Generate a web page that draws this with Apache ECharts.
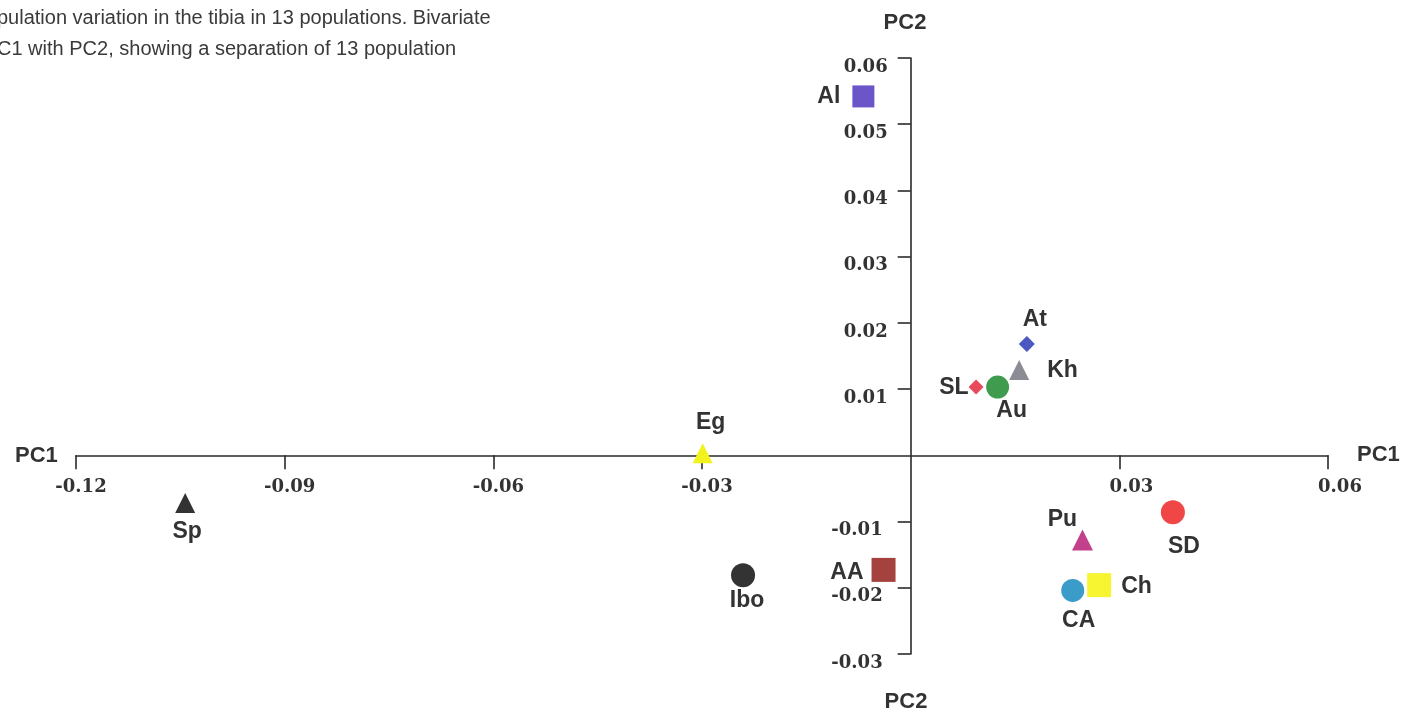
<!DOCTYPE html>
<html>
<head>
<meta charset="utf-8">
<script src="https://cdn.jsdelivr.net/npm/echarts@6/dist/echarts.min.js"></script>
<style>
html,body{margin:0;padding:0;background:#fff;}
#main{width:1408px;height:715px;}
</style>
</head>
<body>
<div id="main"></div>
<script>
// ---- data ----
const populations = ['Al','At','Kh','SL','Au','Eg','Sp','Ibo','AA','Pu','SD','CA','Ch'];
const pc1 = [-0.0068, 0.0167, 0.0156, 0.0094, 0.0125, -0.0299, -0.1043, -0.0241, -0.0039, 0.0247, 0.0377, 0.0233, 0.0271];
const pc2 = [0.0542, 0.0168, 0.0129, 0.0103, 0.0103, 0.0003, -0.0072, -0.0181, -0.0173, -0.0128, -0.0086, -0.0204, -0.0196];
const xTicks = [-0.12, -0.09, -0.06, -0.03, 0.03, 0.06];
const yTicks = [-0.03, -0.02, -0.01, 0.01, 0.02, 0.03, 0.04, 0.05, 0.06];
const captionLines = [
  'pulation variation in the tibia in 13 populations. Bivariate',
  'C1 with PC2, showing a separation of 13 population'
];

// ---- styles (per population) ----
const styleMap = {
  Al:  {symbol:'rect',     size:22, color:'#6b55c9', pos:'left',   dist:12, offset:[0,0]},
  At:  {symbol:'diamond',  size:16, color:'#4b58c2', pos:'top',    dist:5,  offset:[8,0]},
  Kh:  {symbol:'triangle', size:20, color:'#8c8c94', pos:'right',  dist:18, offset:[0,1]},
  SL:  {symbol:'diamond',  size:15, color:'#e84a5c', pos:'left',   dist:0,  offset:[0,1]},
  Au:  {symbol:'circle',   size:23, color:'#3f9b4d', pos:'bottom', dist:1,  offset:[14,0]},
  Eg:  {symbol:'triangle', size:20, color:'#f2f21e', pos:'top',    dist:9,  offset:[8,0]},
  Sp:  {symbol:'triangle', size:20, color:'#333333', pos:'bottom', dist:7,  offset:[2,0]},
  Ibo: {symbol:'circle',   size:24, color:'#333333', pos:'bottom', dist:2,  offset:[4,0]},
  AA:  {symbol:'rect',     size:24, color:'#a3423f', pos:'left',   dist:8,  offset:[0,3]},
  Pu:  {symbol:'triangle', size:21, color:'#c2418a', pos:'top',    dist:0,  offset:[-20,2]},
  SD:  {symbol:'circle',   size:24, color:'#f04646', pos:'bottom', dist:11, offset:[11,0]},
  CA:  {symbol:'circle',   size:23, color:'#3b9bc9', pos:'bottom', dist:7,  offset:[6,0]},
  Ch:  {symbol:'rect',     size:24, color:'#f7f531', pos:'right',  dist:10, offset:[0,2]}
};

const num = v => {
  const r = Math.round(v*100)/100;
  if (Math.abs(r) < 1e-9) return null;
  return r;
};
const fmtX = v => {
  const r = num(v);
  if (r === null) return '';
  return r < 0 ? '{n|-' + Math.abs(r).toFixed(2) + '}' : '{p|' + r.toFixed(2) + '}';
};
const fmtY = v => {
  const r = num(v);
  if (r === null) return '';
  return r < 0 ? '{n|-' + Math.abs(r).toFixed(2) + '}' : '{p|' + r.toFixed(2) + '}';
};

const seriesData = populations.map((name, i) => {
  const s = styleMap[name];
  return {
    name: name,
    value: [pc1[i], pc2[i]],
    symbol: s.symbol,
    symbolSize: s.size,
    itemStyle: {color: s.color, opacity: 1},
    label: {
      show: true,
      formatter: name,
      position: s.pos,
      distance: s.dist,
      offset: s.offset
    }
  };
});

const GRID = {left:76, right:80, top:58, bottom:61};
const W = 1408, H = 715;
const XMIN = -0.12, XMAX = 0.06, YMIN = -0.03, YMAX = 0.06;
// offsets so the axes cross at the origin (labels follow the lines)
const gw = W - GRID.left - GRID.right, gh = H - GRID.top - GRID.bottom;
const xAxisOffset = -gh * (0 - YMIN) / (YMAX - YMIN);
const yAxisOffset = -gw * (0 - XMIN) / (XMAX - XMIN);

const serifBase = {fontFamily:'"DejaVu Serif", serif', fontWeight:'bold', fontSize:18, color:'#333'};
const nameFont = {fontFamily:'"Liberation Sans", Arial, sans-serif', fontWeight:'bold', fontSize:23, color:'#333'};
const nameCss = 'bold 22px "Liberation Sans", Arial, sans-serif';
const capCss = '20px "Liberation Sans", Arial, sans-serif';

const chart = echarts.init(document.getElementById('main'), null, {renderer:'canvas'});
chart.setOption({
  backgroundColor:'#ffffff',
  animation:false,
  grid:Object.assign({containLabel:false}, GRID),
  xAxis:{
    type:'value', min:XMIN, max:XMAX, interval:0.03,
    position:'bottom', offset:xAxisOffset,
    axisLine:{onZero:false, lineStyle:{color:'#2a2a2a', width:1.6}},
    axisTick:{show:true, length:14, lineStyle:{color:'#2a2a2a', width:1.6}, customValues: xTicks},
    axisLabel:Object.assign({margin:23, formatter:fmtX, customValues: xTicks,
      rich:{
        p:Object.assign({padding:[0,0,0,24]}, serifBase),
        n:Object.assign({padding:[0,0,0,10]}, serifBase)
      }}, serifBase),
    splitLine:{show:false}
  },
  yAxis:{
    type:'value', min:YMIN, max:YMAX, interval:0.01,
    position:'left', offset:yAxisOffset,
    axisLine:{onZero:false, lineStyle:{color:'#2a2a2a', width:1.6}},
    axisTick:{show:true, length:13, lineStyle:{color:'#2a2a2a', width:1.6}, customValues: yTicks},
    axisLabel:Object.assign({margin:23, formatter:fmtY, customValues: yTicks, verticalAlign:'top',
      rich:{
        p:Object.assign({padding:[0,0,0,0]}, serifBase),
        n:Object.assign({padding:[0,5,0,0]}, serifBase)
      }}, serifBase),
    splitLine:{show:false}
  },
  graphic:[
    {type:'text', x:-3, y:8, style:{text:captionLines[0], font:capCss, fill:'#3a3a3a'}},
    {type:'text', x:-3, y:39, style:{text:captionLines[1], font:capCss, fill:'#3a3a3a'}},
    {type:'text', x:15, y:456, style:{text:'PC1', font:nameCss, fill:'#333', align:'left', verticalAlign:'middle'}},
    {type:'text', x:1357, y:455, style:{text:'PC1', font:nameCss, fill:'#333', align:'left', verticalAlign:'middle'}},
    {type:'text', x:905, y:23, style:{text:'PC2', font:nameCss, fill:'#333', align:'center', verticalAlign:'middle'}},
    {type:'text', x:906, y:702, style:{text:'PC2', font:nameCss, fill:'#333', align:'center', verticalAlign:'middle'}}
  ],
  series:[{
    type:'scatter',
    data:seriesData,
    label:Object.assign({show:true}, nameFont),
    emphasis:{disabled:true}
  }]
});
</script>
</body>
</html>
